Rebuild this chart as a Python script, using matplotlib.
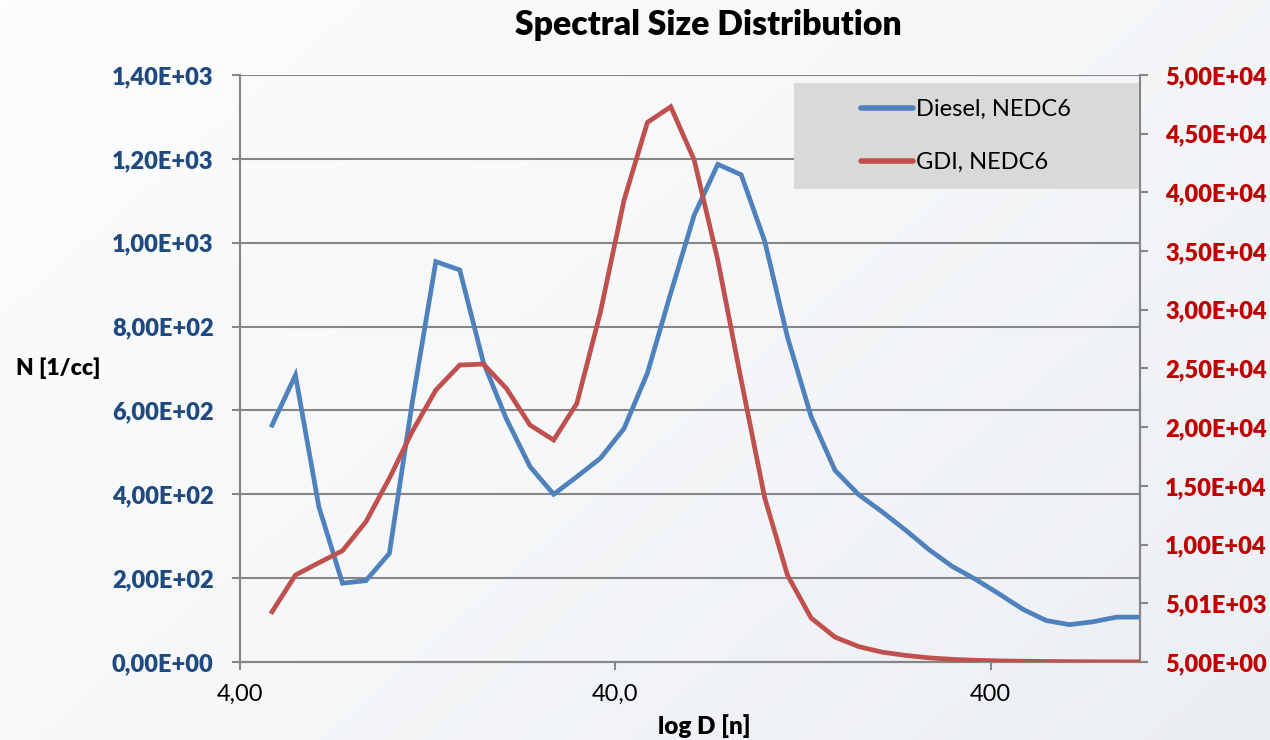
import matplotlib.pyplot as plt
import numpy as np
from matplotlib.colors import LinearSegmentedColormap
from matplotlib.lines import Line2D
from matplotlib.patches import Rectangle
from matplotlib.ticker import FixedLocator, FuncFormatter, NullLocator

plt.rcParams["font.family"] = ["Lato", "DejaVu Sans"]

# Mobility diameter of each classifier channel [nm]
diameter = [4.87, 5.62, 6.49, 7.50, 8.66, 10.0, 11.5, 13.3, 15.4, 17.8,
            20.5, 23.7, 27.4, 31.6, 36.5, 42.2, 48.7, 56.2, 64.9, 75.0,
            86.6, 100, 115, 133, 154, 178, 205, 237, 274, 316,
            365, 422, 487, 562, 649, 750, 866, 1000]

# Number concentration per channel [1/cc]
diesel = [565, 684, 370, 188, 194, 259, 617, 955, 935, 715,
          580, 466, 400, 442, 486, 557, 689, 880, 1066, 1187,
          1162, 1004, 775, 585, 457, 399, 359, 315, 268, 228,
          197, 162, 126, 99, 89, 96, 107, 107]
gdi = [4285, 7410, 8460, 9480, 11950, 15650, 19620, 23170, 25300, 25385,
       23310, 20190, 18910, 22040, 29800, 39350, 45970, 47300, 42760, 34240,
       24000, 14000, 7400, 3750, 2120, 1320, 850, 570, 360, 230,
       150, 100, 70, 50, 35, 25, 18, 12]

left_ticks = [0, 200, 400, 600, 800, 1000, 1200, 1400]
right_ticks = [5, 5005, 10005, 15005, 20005, 25005, 30005, 35005, 40005,
               45005, 50005]
right_labels = ["5,00E+00", "5,01E+03", "1,00E+04", "1,50E+04", "2,00E+04",
                "2,50E+04", "3,00E+04", "3,50E+04", "4,00E+04", "4,50E+04",
                "5,00E+04"]
x_ticks = [4, 40, 400]
x_labels = ["4,00", "40,0", "400"]

BLUE = "#4F81BD"
RED = "#C0504D"
GRID = "#868686"
HEAVY = "heavy"

fig = plt.figure(figsize=(12.7, 7.4), dpi=100)

# soft slide background
bg = fig.add_axes([0, 0, 1, 1], zorder=-10)
gx, gy = np.meshgrid(np.linspace(0, 1, 300), np.linspace(0, 1, 200))
grad = 0.6 * gx + 0.4 * gy
cmap = LinearSegmentedColormap.from_list("bg", ["#FDFDFE", "#F5F7F9", "#EBEEF3"])
bg.imshow(grad, cmap=cmap, aspect="auto", extent=[0, 1, 0, 1], origin="upper")
bg.axis("off")

ax = fig.add_axes([240 / 1270, 1 - 662 / 740, 900 / 1270, 587 / 740])
ax.set_facecolor("none")
ax2 = ax.twinx()

ax.plot(diameter, diesel, color=BLUE, lw=3.4, solid_joinstyle="miter", zorder=3)
ax2.plot(diameter, gdi, color=RED, lw=3.4, solid_joinstyle="miter", zorder=3)

ax.set_xscale("log")
ax.set_xlim(4, 1000)
ax.xaxis.set_major_locator(FixedLocator(x_ticks))
ax.xaxis.set_minor_locator(NullLocator())
ax.set_xticklabels(x_labels, fontsize=17, color="black")

ax.set_ylim(0, 1400)
ax.set_yticks(left_ticks)
ax.yaxis.set_major_formatter(FuncFormatter(lambda v, p: f"{v:.2E}".replace(".", ",")))
for lab in ax.get_yticklabels():
    lab.set_fontweight(HEAVY)
ax.tick_params(axis="y", labelsize=17, labelcolor="#1F4A80", length=6,
               width=1.5, color=GRID, pad=13)
ax.tick_params(axis="x", length=6, width=1.5, color=GRID, pad=10)

ax2.set_ylim(5, 50005)
ax2.set_yticks(right_ticks)
ax2.set_yticklabels(right_labels, fontweight=HEAVY)
ax2.tick_params(axis="y", labelsize=17, labelcolor="#C00000", length=6,
                width=1.5, color=GRID, pad=12)

ax.grid(axis="y", color=GRID, lw=1.5)
ax.grid(axis="x", visible=False)
ax.set_axisbelow(True)
for a in (ax, ax2):
    a.spines["top"].set_visible(False)
    for s in ("left", "right", "bottom"):
        a.spines[s].set_color(GRID)
        a.spines[s].set_linewidth(1.5)

fig.text(708 / 1270, 1 - 25 / 740, "Spectral Size Distribution",
         ha="center", va="center", fontsize=24.3, fontweight=HEAVY)
fig.text(16 / 1270, 1 - 368 / 740, "N [1/cc]", ha="left", va="center",
         fontsize=16.5, fontweight=HEAVY)
fig.text(704 / 1270, 1 - 726 / 740, "log D [n]", ha="center", va="center",
         fontsize=17.5, fontweight=HEAVY)

# legend: grey panel with the two series keys
ax2.add_patch(Rectangle(((794 - 240) / 900, (662 - 189) / 587),
                        (1139 - 794) / 900, (189 - 83) / 587,
                        transform=ax2.transAxes, facecolor="#D9D9D9",
                        edgecolor="none", zorder=5))
handles = [Line2D([], [], color=BLUE, lw=4, solid_capstyle="round"),
           Line2D([], [], color=RED, lw=4, solid_capstyle="round")]
leg = ax2.legend(handles, ["Diesel, NEDC6", "GDI, NEDC6"],
                 loc="center left",
                 bbox_to_anchor=((861 - 240) / 900, (662 - 136) / 587),
                 fontsize=17, frameon=False, handlelength=2.2,
                 handletextpad=0.15, labelspacing=1.35, borderpad=0,
                 borderaxespad=0)
leg.set_zorder(6)

fig.savefig("out.png", dpi=100)
